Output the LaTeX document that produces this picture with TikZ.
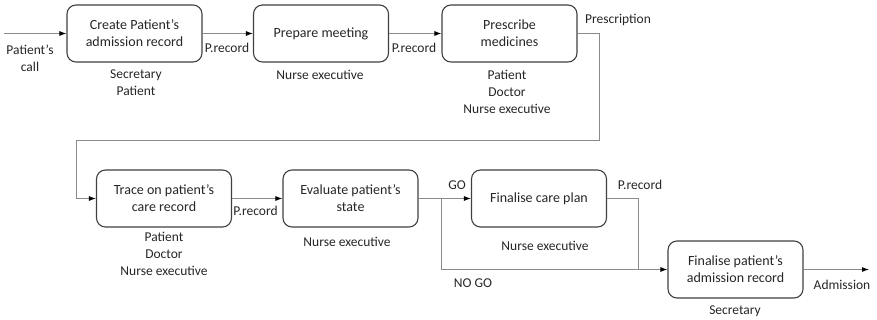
\documentclass[tikz,border=0pt]{standalone}
\usepackage{fontspec}
\setmainfont{Carlito}
\usetikzlibrary{arrows.meta}
\definecolor{boxline}{HTML}{404040}
\definecolor{flowline}{HTML}{8A8A8A}
\definecolor{txt}{HTML}{262626}
\begin{document}
\begin{tikzpicture}[x=1pt,y=-1pt,
  font=\fontsize{14}{17}\selectfont, text=txt,
  task/.style={draw=boxline, line width=1.1pt, rounded corners=9pt,
    minimum width=135pt, minimum height=57pt, align=center, inner sep=2pt},
  lbl/.style={align=center, inner sep=1pt, font=\fontsize{13.5}{17}\selectfont},
  flow/.style={draw=flowline, line width=0.9pt},
  tip/.style={flow, -{Latex[length=7pt,width=5pt,black]}}]
\useasboundingbox (0,0) rectangle (877,320);

% activities
\node[task] (b1) at (134.5,33.5) {Create Patient’s\\admission record};
\node[task] (b2) at (321,33.5) {Prepare meeting};
\node[task] (b3) at (509.5,33.5) {Prescribe\\medicines};
\node[task] (b4) at (164,198.5) {Trace on patient’s\\care record};
\node[task] (b5) at (350.5,198.5) {Evaluate patient’s\\state};
\node[task] (b6) at (539,198.5) {Finalise care plan};
\node[task] (b7) at (735.5,269.5) {Finalise patient’s\\admission record};

% actors
\node[lbl] (a1) at (136,83) {Secretary\\Patient};
\node[lbl] (a2) at (320,75) {Nurse executive};
\node[lbl] (a3) at (507,92) {Patient\\Doctor\\Nurse executive};
\node[lbl] (a4) at (164,253.5) {Patient\\Doctor\\Nurse executive};
\node[lbl] (a5) at (347,242) {Nurse executive};
\node[lbl] (a6) at (545,246) {Nurse executive};
\node[lbl] (a7) at (735,311) {Secretary};

% flow labels
\node[lbl] (f0) at (30,58) {Patient’s\\call};
\node[lbl] (f1) at (227,48) {P.record};
\node[lbl] (f2) at (414,48) {P.record};
\node[lbl] (f3) at (618,20) {Prescription};
\node[lbl] (f4) at (255.5,211) {P.record};
\node[lbl] (f5) at (457,185) {GO};
\node[lbl] (f6) at (473,283) {NO GO};
\node[lbl] (f7) at (640,185) {P.record};
\node[lbl] (f8) at (842,285) {Admission};

% connector bend points
\coordinate (start) at (4,33.5);
\coordinate (loopR) at (599,140);
\coordinate (loopL) at (76,140);
\coordinate (split) at (441,198.5);
\coordinate (join) at (638,269.5);
\coordinate (finish) at (869,269.5);

% connectors
\draw[tip] (start) -- (b1.west);
\draw[tip] (b1.east) -- (b2.west);
\draw[tip] (b2.east) -- (b3.west);
\draw[tip] (b3.east) -| (loopR) -- (loopL) |- (b4.west);
\draw[tip] (b4.east) -- (b5.west);
\draw[tip] (b5.east) -- (b6.west);
\draw[tip] (split) |- (b7.west);
\draw[flow] (b6.east) -| (join);
\draw[tip] (b7.east) -- (finish);
\end{tikzpicture}
\end{document}
